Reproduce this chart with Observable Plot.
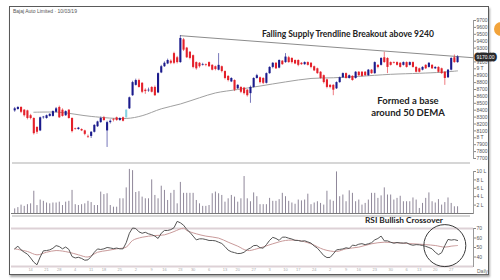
<!DOCTYPE html>
<html><head><meta charset="utf-8">
<script src="https://cdn.jsdelivr.net/npm/d3@7"></script>
<script src="https://cdn.jsdelivr.net/npm/@observablehq/plot@0.6"></script>
<style>
html,body{margin:0;padding:0;width:500px;height:280px;overflow:hidden;background:#fff;font-family:"Liberation Sans",sans-serif}
.abs{position:absolute}
#frame{left:9px;top:6px;width:478px;height:267px;border:1.5px solid #5a5a5a;box-shadow:1px 2px 2px rgba(0,0,0,.35)}
#hdr{left:13px;top:8px;font-size:5px;color:#555;white-space:nowrap}
.note{font-family:Lato,"Open Sans",sans-serif;font-weight:bold;color:#222;white-space:nowrap;line-height:1}
.sep{height:2px;background:#d6d6d6}
#orange{left:494px;top:22px;width:14px;height:14px;border-radius:50%;background:#f2a33a}
</style></head><body>
<div id="frame" class="abs"></div>
<div id="hdr" class="abs">Bajaj Auto Limited · 10/03/19</div>
<div id="orange" class="abs"></div>
<div id="price" class="abs" style="left:10px;top:8px"></div>
<div class="abs sep" style="left:12px;top:162px;width:458px"></div>
<div id="vol" class="abs" style="left:10px;top:163px"></div>
<div class="abs sep" style="left:12px;top:215px;width:458px"></div>
<div id="rsi" class="abs" style="left:10px;top:216px"></div>
<div class="abs note" style="left:262px;top:30px;font-size:8.5px">Falling Supply Trendline Breakout above 9240</div>
<div class="abs note" style="left:348px;top:95px;width:120px;text-align:center;font-size:9.5px;line-height:12px">Formed a base<br>around 50 DEMA</div>
<div class="abs note" style="left:365px;top:216px;font-size:8.3px">RSI Bullish Crossover</div>
<div class="abs" style="left:477px;top:269px;font-size:5px;line-height:5px;color:#666;text-decoration:underline">Daily</div>
<script>
// ---- data ----
const open  = [8390,8410,8440,8400,8390,8320,8280,8150,8100,8290,8280,8310,8310,8370,8440,8400,8320,8400,8280,8130,
8120,8120,8100,8020,8020,8080,8160,8220,8290,8100,8220,8260,8290,8250,8290,8290,8420,8610,8760,8830,
8790,8690,8680,8730,8730,8650,8940,9030,9070,9110,9220,9160,9090,9420,9300,9240,9190,9090,9080,9050,
9060,9090,9050,9030,8980,9030,8960,8890,8810,8830,8710,8730,8720,8690,8640,8730,8860,8870,8860,8790,
8930,9020,9080,9010,9110,9090,9160,9150,9120,9120,9080,9060,9090,9080,9030,9000,8950,8900,8840,8760,
8760,8710,8800,8870,8930,8860,8890,8860,8950,8950,8950,8900,8980,8930,9050,9050,9160,9150,9090,9090,
9090,9080,9050,9090,9050,9090,9020,9000,8980,9050,9020,9050,9000,9020,9000,8950,8870,8980,9160,9090];
const high  = [8440,8450,8450,8410,8400,8340,8290,8160,8300,8310,8330,8350,8390,8440,8460,8420,8390,8410,8290,8140,
8150,8130,8110,8040,8090,8190,8240,8300,8310,8240,8260,8280,8300,8290,8300,8410,8590,8820,8850,8850,
8800,8710,8720,8740,8750,8940,9050,9100,9140,9130,9240,9180,9480,9440,9310,9250,9200,9100,9090,9080,
9070,9100,9060,9040,9220,9040,8970,8900,8870,8840,8770,8740,8730,8700,8750,8870,8920,8880,8870,8940,
9030,9090,9090,9130,9120,9220,9180,9160,9130,9130,9090,9100,9100,9090,9040,9010,8960,8910,8850,8770,
8770,8810,8880,8940,8940,8910,8900,8960,8960,8960,8960,8990,8990,9100,9060,9160,9240,9160,9100,9100,
9100,9090,9100,9100,9100,9100,9030,9010,9030,9060,9090,9060,9030,9030,9010,8960,8990,9160,9200,9190];
const low   = [8370,8400,8350,8300,8260,8260,8040,8050,8090,8270,8270,8300,8300,8360,8280,8300,8310,8270,8070,8110,
8110,8090,8030,7990,7990,8070,8150,8210,8240,7860,8200,8230,8240,8240,8230,8280,8410,8600,8750,8720,
8640,8630,8660,8650,8600,8640,8930,9020,9060,9060,9060,9070,9080,9250,9150,9130,9000,8980,9010,9040,
9030,9020,8970,8970,8970,8940,8840,8810,8800,8670,8700,8640,8620,8590,8500,8720,8850,8780,8770,8780,
8920,9000,8990,9000,9050,9080,9080,9070,9060,9030,9050,9050,9040,9000,8960,8920,8850,8780,8710,8710,
8610,8700,8790,8860,8850,8850,8820,8850,8890,8880,8890,8890,8920,8920,9000,9040,9080,8930,9040,9070,
9040,9010,9040,9010,9040,9010,8940,8940,8970,8990,9010,8990,8990,8940,8920,8760,8860,8970,9080,9080];
const close = [8420,8440,8370,8320,8280,8280,8060,8080,8290,8300,8320,8340,8380,8420,8290,8310,8380,8280,8090,8120,
8140,8100,8050,8010,8080,8180,8230,8280,8250,8220,8240,8250,8250,8280,8240,8400,8580,8800,8830,8730,
8660,8670,8690,8660,8610,8930,9030,9080,9120,9080,9080,9090,9440,9270,9160,9150,9020,9000,9030,9060,
9050,9030,8980,8990,9050,8960,8860,8830,8860,8690,8760,8660,8640,8610,8730,8860,8900,8800,8790,8930,
9020,9080,9000,9120,9060,9170,9090,9090,9070,9050,9060,9090,9050,9020,8970,8930,8860,8800,8730,8730,
8690,8800,8870,8930,8860,8900,8830,8950,8900,8890,8900,8980,8930,9090,9020,9150,9090,9020,9050,9080,
9050,9020,9090,9020,9090,9020,8950,8950,9020,9000,9080,9000,9020,8950,8930,8860,8980,9150,9090,9170];
const highlightCandle = 35; // light-blue candle

const volume = [1.1,1.4,2.0,1.7,2.1,2.3,5.3,1.9,3.2,2.9,2.5,2.3,2.5,2.5,2.7,1.9,2.7,2.9,5.5,2.1,
1.9,2.1,2.3,2.9,2.6,1.9,1.9,5.1,4.5,4.7,1.9,1.5,1.5,3.5,3.5,6.1,10.5,10.2,5.0,5.2,
3.9,3.5,3.5,8.0,4.3,3.5,6.5,5.5,3.1,4.8,5.5,2.3,7.4,4.8,4.8,4.8,4.8,3.1,2.3,1.7,
1.7,1.9,4.7,5.1,4.7,4.3,2.7,3.5,4.3,3.9,2.7,3.5,8.8,3.5,2.8,4.9,4.0,2.1,2.1,2.1,
3.6,2.9,2.9,3.3,4.8,4.0,2.9,2.5,2.2,3.2,3.0,3.2,4.6,2.1,2.5,2.8,2.4,2.0,5.3,3.2,
2.9,9.9,4.0,4.4,2.8,5.4,4.8,2.8,3.2,2.0,2.4,3.2,4.8,4.8,3.6,4.2,6.1,4.4,4.4,3.2,
3.6,4.1,2.8,2.8,2.8,3.7,3.2,1.2,2.4,3.6,4.9,2.8,2.5,3.3,2.0,2.6,3.7,2.4,1.6,1.6];

const rsi = [48.6,51.4,47.5,45,43,39,34.5,31.8,40,46.5,46.8,47.5,49.2,52,51,48.6,50.5,48,40.5,39,
39.7,38.5,36.6,37,40.5,45,48.5,47.9,48.6,50,49.5,48.8,49.4,48.6,48.6,55,65,70.5,70,66.5,
65,66,64.4,63.5,62,59.5,65,67.9,67.9,68.8,70.8,77.5,76,73.5,69,66,62,58,59.1,59.1,
58.4,57.4,57.4,57,55.6,54.2,51,47.2,45.5,44.6,43.6,43.8,45,47.8,49.5,52,52.2,49.8,49.3,53,
57.5,60.7,59.5,57.5,60.9,60.9,59.8,58.9,57.5,57.4,56.6,57.1,55.9,54.6,51.6,49.3,45.5,41.5,39.4,39.6,
43.3,47.5,48,48.5,49.7,49,52.5,52,53.5,54,53,53.9,55,58,59.5,62,57,57,55.5,54.5,
55.3,54.8,54.6,55,53.2,52.4,53,52.8,52.1,51.2,50,48.6,45,42.5,44.5,52,58.5,57.8,58.3,57.4];

const signalIdx = [0,4,7,10,13,17,20,23,26,29,32,35,37,40,44,47,50,53,54,57,60,64,67,70,73,76,81,85,89,93,97,101,104,108,112,116,120,125,129,132,135,137,139];
const signalVal = [48.6,45.8,42.3,45,46.8,45,42.3,40,45,46.8,48.6,50.4,57.4,60.8,62.6,63.3,66.8,70.3,67.9,64.4,62,59.9,55.6,51.4,46.8,48.6,53.9,57.4,57.4,53.9,47.9,45.8,48.6,50.4,53.9,55.6,54.9,53.9,53,52.1,50.4,51.4,52.1];

const demaIdx = [6,14,24,35,40,46,52,58,63,70,77,85,93,100,108,118,127,134,139];
const demaVal = [8370,8370,8310,8280,8320,8420,8490,8580,8650,8700,8750,8810,8860,8870,8890,8920,8935,8950,8970];

const trendIdx = [52,144];
const trendVal = [9480,9160];

// 9200 sits under the last-price box, as in the reference
const priceTicks = [7700,7800,7900,8000,8100,8200,8300,8400,8500,8600,8700,8800,8900,9000,9100,9300,9400,9500,9600,9700];
const volTicks = [2,4,6,8,10];
const rsiTicks = [40,50,60,70];
const dateTickIdx = [5,10,14,19,24,28,33,38,43,47,52,56,61,66,70,75,80,85,89,94,99,104,108,113,118,123,127,132,137];
const dateTickLab = ["14","21","28","4","11","18","25","2","9","16","23","30","6","13","20","27","3","10","17","24","2","9","16","23","30","6","13","20","27"];
const crossoverIdx = 135;

// ---- build ----
const candles = open.map((o,i)=>({i, o, h:high[i], l:low[i], c:close[i]}));
const colorOf = d => d.i === highlightCandle ? "#86d3e3" : (d.c >= d.o ? "#1b1b8c" : "#e4202a");
const vols = volume.map((v,i)=>({i, v}));
const rsiRows = rsi.map((v,i)=>({i, v}));
const sigRows = signalIdx.map((i,k)=>({i, v:signalVal[k]}));
const demaRows = demaIdx.map((i,k)=>({i, v:demaVal[k]}));
const trendRows = trendIdx.map((i,k)=>({i, v:trendVal[k]}));
const last = candles[candles.length-1];
const axisEnd = trendIdx[1];

const W = 480, xDom = [-1, 144];
const style = {fontFamily:"Liberation Sans, sans-serif", fontSize:"5px", color:"#555", background:"transparent", overflow:"visible"};

const price = Plot.plot({
  width: W, height: 156, marginLeft: 1, marginRight: 17, marginTop: 12, marginBottom: 6, style,
  x: {domain: xDom, axis: null, label: null},
  y: {domain: [7700, 9700], label: null},
  marks: [
    Plot.axisY({anchor:"right", label: null, ticks: priceTicks, tickFormat: d => d % 1000 === 0 ? `${d/1000} T` : `${d}`, tickSize: 2, tickPadding: 1, stroke:"#888"}),
    Plot.frame({anchor:"right", stroke:"#9a9a9a"}),
    Plot.line(trendRows, {x:"i", y:"v", stroke:"#8c8c8c", strokeWidth:1}),
    Plot.line(demaRows, {x:"i", y:"v", stroke:"#a0a0a0", strokeWidth:1, curve:"catmull-rom"}),
    Plot.ruleX(candles, {x:"i", y1:"l", y2:"h", stroke: colorOf, strokeWidth: 0.8, strokeOpacity: 0.75}),
    Plot.ruleX(candles, {x:"i", y1:"o", y2:"c", stroke: colorOf, strokeWidth: 2.1}),
    Plot.text([last], {x: () => axisEnd, y:"c", text: d => d.c.toFixed(2), textAnchor:"start", dx: 3, fill:"#fff", stroke:"#2a2a2a", strokeWidth: 5, fontSize: 5})
  ]
});
document.getElementById("price").append(price);

const vol = Plot.plot({
  width: W, height: 52, marginLeft: 1, marginRight: 17, marginTop: 8, marginBottom: 2, style,
  x: {domain: xDom, axis: null, label: null},
  y: {domain: [0, 10], label: null},
  marks: [
    Plot.axisY({anchor:"right", label: null, ticks: volTicks, tickFormat: d => `${d} L`, tickSize: 2, tickPadding: 1, stroke:"#888"}),
    Plot.frame({anchor:"right", stroke:"#9a9a9a"}),
    Plot.ruleY([0], {stroke:"#7a7a7a"}),
    Plot.ruleX(vols, {x:"i", y1: 0, y2:"v", stroke:"#8f8799", strokeWidth: 1})
  ]
});
document.getElementById("vol").append(vol);

const rsiPlot = Plot.plot({
  width: W, height: 60, marginLeft: 1, marginRight: 17, marginTop: 12, marginBottom: 10, style,
  x: {domain: xDom, label: null},
  y: {domain: [30, 70], label: null},
  marks: [
    Plot.ruleY([70, 30], {stroke:"#ddd1d6", strokeWidth: 2}),
    Plot.axisY({anchor:"right", label: null, ticks: rsiTicks, tickSize: 2, tickPadding: 1, stroke:"#888"}),
    Plot.frame({anchor:"right", stroke:"#9a9a9a"}),
    Plot.axisX({anchor:"bottom", label: null, ticks: dateTickIdx, tickFormat: d => dateTickLab[dateTickIdx.indexOf(d)], tickSize: 0, tickPadding: 2, fill:"#aaa", fontSize: 4}),
    Plot.line(sigRows, {x:"i", y:"v", stroke:"#c99a9a", strokeWidth: 1, curve:"catmull-rom"}),
    Plot.line(rsiRows, {x:"i", y:"v", stroke:"#555", strokeWidth: 1}),
    Plot.dot([rsiRows[crossoverIdx]], {x:"i", y:"v", r: 21, stroke:"#3a3a3a", fill:"none", strokeWidth: 1})
  ]
});
document.getElementById("rsi").append(rsiPlot);
</script>
</body></html>
